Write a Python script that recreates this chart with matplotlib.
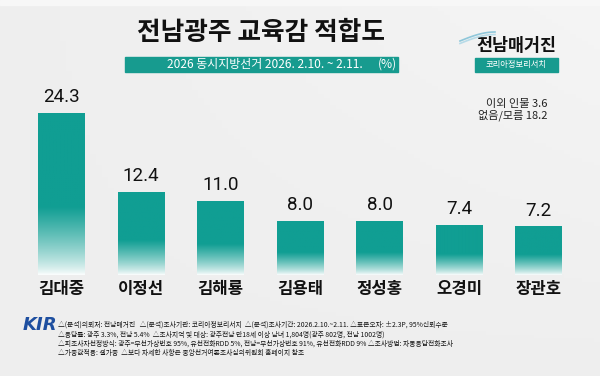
import matplotlib
matplotlib.use("Agg")
import matplotlib.pyplot as plt
import numpy as np
from matplotlib.patches import Rectangle

plt.rcParams['font.family'] = ['Noto Sans CJK KR', 'DejaVu Sans']

candidates = ['김대중', '이정선', '김해룡', '김용태', '정성홍', '오경미', '장관호']
values = [24.3, 12.4, 11.0, 8.0, 8.0, 7.4, 7.2]
title = '전남광주 교육감 적합도'
subtitle = '2026 동시지방선거 2026. 2.10. ~ 2.11.'
others = ['이외 인물 3.6', '없음/모름 18.2']
footnotes = [
    '△(분석)의뢰처: 전남매거진   △(분석)조사기관: 코리아정보리서치  △(분석)조사기간: 2026.2.10.~2.11. △표본오차: ±2.3P, 95%신뢰수준',
    '△응답률: 광주 3.3%, 전남 5.4%  △조사지역 및 대상: 광주전남 만18세 이상 남녀 1,804명(광주 802명, 전남 1002명)',
    '△피조사자선정방식: 광주=무선가상번호 95%, 유선전화RDD 5%, 전남=무선가상번호 91%, 유선전화RDD 9% △조사방법: 자동응답전화조사',
    '△가중값적용: 셀가중  △보다 자세한 사항은 중앙선거여론조사심의위원회 홈페이지 참조',
]

W, H = 600, 376
fig = plt.figure(figsize=(6, 3.76), dpi=100)
fig.patch.set_facecolor('#eeeeee')

teal = np.array([0x10, 0x9e, 0x93]) / 255.0

# background gradient (subtle)
bg = fig.add_axes([0, 0, 1, 1])
bg.set_xlim(0, W); bg.set_ylim(H, 0); bg.axis('off')
gy = np.linspace(0, 1, 100)[:, None]
gx = np.linspace(0, 1, 100)[None, :]
grad = 0.935 + 0.025 * (1 - gy) * gx
bg.imshow(np.dstack([grad, grad, grad]), extent=(0, W, H, 0), aspect='auto', zorder=0)
bg.add_patch(Rectangle((0, 0), W, 5, color='#f7f7f7', zorder=1))

# title
bg.text(261, 33, title, fontsize=18.5, fontweight='bold', ha='center', va='center', color='#111111', zorder=3)
bg.add_patch(Rectangle((125, 57), 273, 15, color='#179b8f', zorder=2))
bg.text(167, 64.5, subtitle, fontsize=8.6, fontweight='medium', ha='left', va='center', color='white', zorder=3)
bg.text(397, 64.5, '(%)', fontsize=8.6, fontweight='medium', ha='right', va='center', color='white', zorder=3)

# logo
bg.text(516, 46, '전남매거진', fontsize=12.5, fontweight='bold', ha='center', va='center', color='#111111', zorder=3)
t = np.linspace(0, 1, 30)
for k, c in enumerate(['#8fc7da', '#b7dbe8']):
    bg.plot(460 + 35 * t, 41 - 9 * np.sin(t * np.pi / 2) + 2.5 * k, color=c, lw=1.2, zorder=3)
bg.add_patch(Rectangle((475, 58), 83, 14, color='#179b8f', zorder=2))
bg.text(516.5, 65, '코리아정보리서치', fontsize=6, ha='center', va='center', color='white', zorder=3)

# others
bg.text(548, 104, others[0], fontsize=8, ha='right', va='center', color='#222222', zorder=3)
bg.text(548, 115, others[1], fontsize=8, ha='right', va='center', color='#222222', zorder=3)

# footnotes
bg.text(40, 325, 'KIR', fontsize=13, fontweight='heavy', fontstyle='italic', ha='center', va='center',
        color='#1e4fa0', family='DejaVu Sans', zorder=3)
for i, line in enumerate(footnotes):
    bg.text(58, 325 + i * 9.4, line, fontsize=4.9, fontweight='medium', ha='left', va='center',
            color='#111111', zorder=3)

# bar axes
ax = fig.add_axes([0.03625, 1 - 275 / H, 0.9275, 200 / H])
ax.axis('off')
ax.patch.set_alpha(0)

bw = 0.59
n = 100
ramp = np.clip(np.linspace(0, 1, n) / 0.42, 0, 1)[:, None]
ramp = ramp ** 0.8
img = ramp[..., None] * teal[None, None, :] + (1 - ramp[..., None]) * np.array([0.98, 0.99, 0.99])
img = np.repeat(img, 2, axis=1)
for i, v in enumerate(values):
    ax.imshow(img, extent=(i - bw / 2, i + bw / 2, 0, v), origin='lower', aspect='auto', zorder=2,
              interpolation='bilinear')
    ax.text(i, v + 1.1, f'{v:.1f}', fontsize=13.5, ha='center', va='bottom', color='#111111',
            family=['Roboto', 'DejaVu Sans'])
    ax.text(i, -0.7, candidates[i], fontsize=12, fontweight='bold', ha='center', va='top', color='#111111')
ax.set_xlim(-0.5, len(values) - 0.5)
ax.set_ylim(0, 30)

fig.savefig('out.png', dpi=100, facecolor=fig.get_facecolor())
